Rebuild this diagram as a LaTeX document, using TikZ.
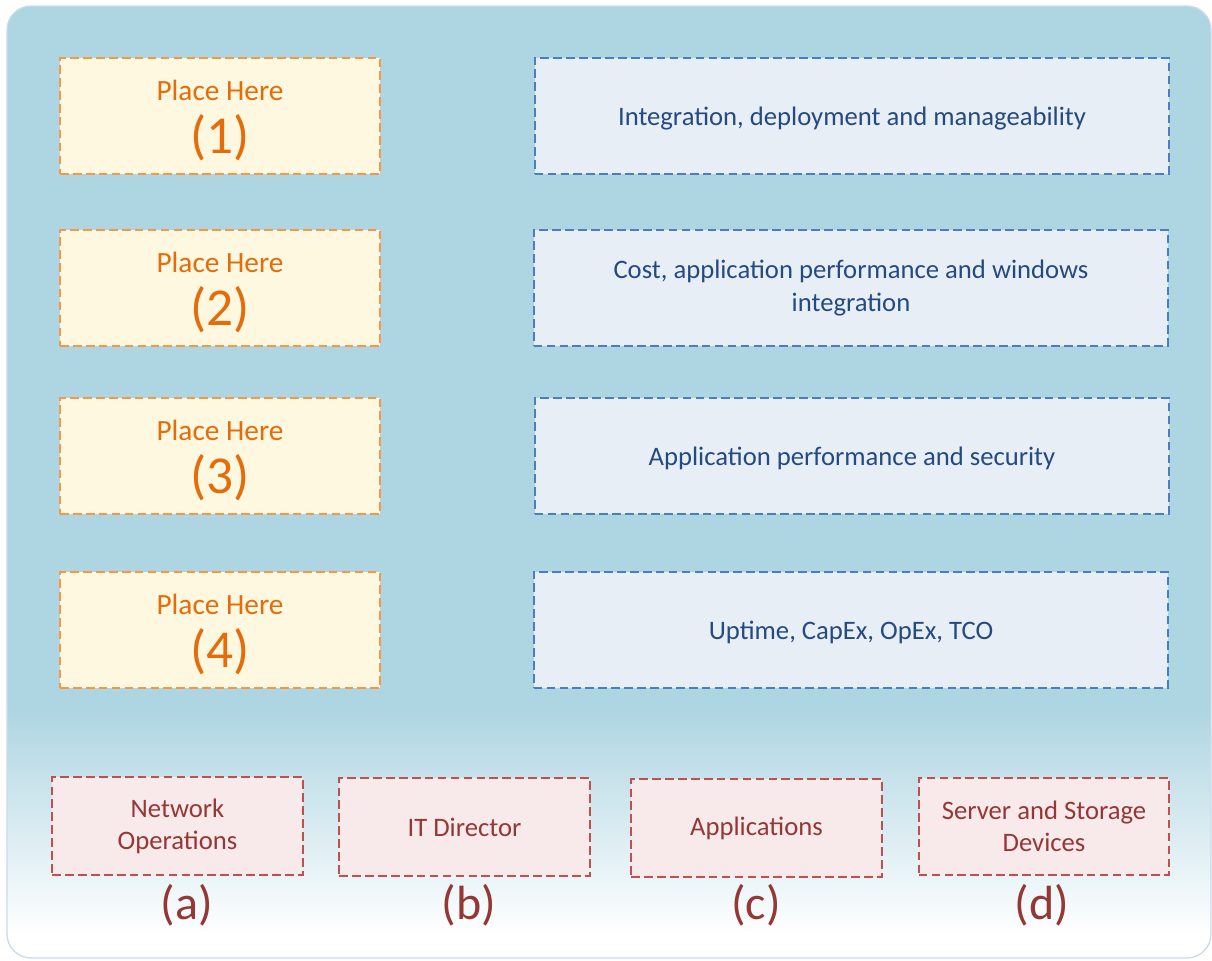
\documentclass[tikz,border=0pt]{standalone}
\usepackage{fontspec}
\setmainfont{Carlito}
\definecolor{obord}{HTML}{F79646}
\definecolor{otext}{HTML}{E46C0A}
\definecolor{ofill}{HTML}{FEF8E0}
\definecolor{bbord}{HTML}{4A7EC0}
\definecolor{btext}{HTML}{244A80}
\definecolor{bfill}{HTML}{E7EEF6}
\definecolor{rbord}{HTML}{C0504D}
\definecolor{rtext}{HTML}{953735}
\definecolor{rfill}{HTML}{F8EAEB}
\definecolor{bgblue}{HTML}{AED5E2}
\definecolor{bgedge}{HTML}{C8DCEC}
\tikzset{
  dbox/.style={draw, line width=1.5pt, dash pattern=on 6.5pt off 3.2pt, inner sep=2pt, align=center},
  obox/.style={dbox, draw=obord, fill=ofill, text=otext, minimum width=240pt, minimum height=87pt},
  bbox/.style={dbox, draw=bbord, fill=bfill, text=btext, minimum width=476pt, minimum height=87pt, font=\fontsize{20}{25}\selectfont},
  rbox/.style={dbox, draw=rbord, fill=rfill, text=rtext, minimum width=188pt, minimum height=73pt, font=\fontsize{20}{24}\selectfont},
  letter/.style={text=rtext, font=\fontsize{36}{40}\selectfont},
}
\newcommand{\ph}[1]{{\fontsize{22}{24}\selectfont\rule{0pt}{22pt}Place Here}\\[10pt]{\fontsize{40}{41}\selectfont (#1)}}
\begin{document}
\begin{tikzpicture}[x=0.75pt,y=-0.75pt]
\useasboundingbox (0,0) rectangle (1212,960);
% background panel
\begin{scope}
  \clip[rounded corners=18pt] (7,6) rectangle (1211,958);
  \fill[bgblue] (0,0) rectangle (1212,710);
  \shade[top color=bgblue, bottom color=white] (0,709) rectangle (1212,935);
  \fill[white] (0,934) rectangle (1212,960);
\end{scope}
\draw[bgedge, line width=1pt, rounded corners=18pt] (7,6) rectangle (1211,958);

% orange boxes
\node[obox] (p1) at (220,116) {\ph{1}};
\node[obox] (p2) at (220,288) {\ph{2}};
\node[obox] (p3) at (220,456) {\ph{3}};
\node[obox] (p4) at (220,630) {\ph{4}};

% blue boxes
\node[bbox, text height=17pt] (q1) at (852,116) {Integration, deployment and manageability};
\node[bbox] (q2) at (851,288) {Cost, application performance and windows\\integration};
\node[bbox, text height=17pt] (q3) at (852,456) {Application performance and security};
\node[bbox, text height=17pt] (q4) at (851,630) {Uptime, CapEx, OpEx, TCO};

% red boxes
\node[rbox] (ra) at (177.5,826) {Network\\Operations};
\node[rbox] (rb) at (464.5,827) {IT Director};
\node[rbox] (rc) at (756.5,828) {Applications};
\node[rbox] (rd) at (1044,826.5) {Server and Storage\\Devices};

% letters
\node[letter] (la) at (187,905) {(a)};
\node[letter] (lb) at (469,905) {(b)};
\node[letter] (lc) at (756,905) {(c)};
\node[letter] (ld) at (1042,905) {(d)};
\end{tikzpicture}
\end{document}
